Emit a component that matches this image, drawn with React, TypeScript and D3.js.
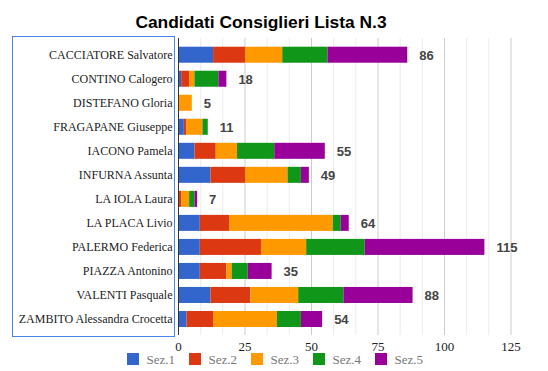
import React from "react";
import * as d3 from "d3";

const title = "Candidati Consiglieri Lista N.3";
const candidates = [
  "CACCIATORE Salvatore",
  "CONTINO Calogero",
  "DISTEFANO Gloria",
  "FRAGAPANE Giuseppe",
  "IACONO Pamela",
  "INFURNA Assunta",
  "LA IOLA Laura",
  "LA PLACA Livio",
  "PALERMO Federica",
  "PIAZZA Antonino",
  "VALENTI Pasquale",
  "ZAMBITO Alessandra Crocetta",
];
const seriesNames = ["Sez.1", "Sez.2", "Sez.3", "Sez.4", "Sez.5"];
const sez1 = [13, 1, 0, 2, 6, 12, 0, 8, 8, 8, 12, 3];
const sez2 = [12, 3, 0, 1, 8, 13, 1, 11, 23, 10, 15, 10];
const sez3 = [14, 2, 5, 6, 8, 16, 3, 39, 17, 2, 18, 24];
const sez4 = [17, 9, 0, 2, 14, 5, 2, 3, 22, 6, 17, 9];
const sez5 = [30, 3, 0, 0, 19, 3, 1, 3, 45, 9, 26, 8];
const colors = ["#3366cc", "#dc3912", "#ff9900", "#109618", "#990099"];
const xTicks = [0, 25, 50, 75, 100, 125];

export default function App() {
  const W = 548, H = 371;
  const x0 = 178.5, x1 = 511;
  const gTop = 38, gBottom = 335;
  const x = d3.scaleLinear().domain([0, 125]).range([x0, x1]);
  const y = d3.scaleBand<string>().domain(candidates).range([42.7, 331]).paddingInner(8 / 24).paddingOuter(4 / 24);

  const table = candidates.map((c, i) => ({
    name: c,
    "Sez.1": sez1[i], "Sez.2": sez2[i], "Sez.3": sez3[i], "Sez.4": sez4[i], "Sez.5": sez5[i],
  }));
  const stacked = d3.stack<any>().keys(seriesNames)(table);
  const totals = candidates.map((_, i) => sez1[i] + sez2[i] + sez3[i] + sez4[i] + sez5[i]);

  const minor = d3.range(0, 125.01, 25 / 3);
  const serif = "'Liberation Serif', 'Times New Roman', serif";
  const sans = "'Liberation Sans', Arial, sans-serif";

  return (
    <svg width={W} height={H} style={{ position: "absolute", left: 0, top: 0 }}>
      <rect width={W} height={H} fill="#fff" />
      <text x={261} y={28} textAnchor="middle" fontFamily={sans} fontWeight="bold" fontSize={17.4} fill="#000">{title}</text>
      {minor.map((v, i) => (
        <line key={"g" + i} x1={x(v)} x2={x(v)} y1={gTop} y2={gBottom}
          stroke={Math.abs(v % 25) < 0.01 || Math.abs((v % 25) - 25) < 0.01 ? "#cccccc" : "#ebebeb"} strokeWidth={1} />
      ))}
      {stacked.map((s, si) => (
        <g key={s.key} fill={colors[si]}>
          {s.map((d, i) => d[1] - d[0] > 0 ? (
            <rect key={i} x={x(d[0])} y={y(candidates[i])} width={x(d[1]) - x(d[0])} height={y.bandwidth()} />
          ) : null)}
        </g>
      ))}
      <line x1={x0} x2={x0} y1={gTop} y2={gBottom} stroke="#333" strokeWidth={1} />
      {candidates.map((c, i) => (
        <text key={"t" + i} x={x(totals[i]) + 12} y={(y(c) as number) + y.bandwidth() / 2 + 5}
          fontFamily={sans} fontWeight="bold" fontSize={13} fill="#444">{totals[i]}</text>
      ))}
      <rect x={12.5} y={36.5} width={162} height={300} fill="none" stroke="#4a86e8" strokeWidth={1} />
      {candidates.map((c, i) => (
        <text key={"l" + i} x={172.5} y={(y(c) as number) + y.bandwidth() / 2 + 4.5} textAnchor="end"
          fontFamily={serif} fontSize={12} fill="#222">{c}</text>
      ))}
      {xTicks.map((t) => (
        <text key={"x" + t} x={x(t)} y={351} textAnchor="middle" fontFamily={serif} fontSize={13} fill="#222">{t}</text>
      ))}
      {seriesNames.map((s, i) => (
        <g key={"lg" + i} transform={`translate(${127 + i * 62},353)`}>
          <rect width={12} height={12} fill={colors[i]} />
          <text x={19.5} y={10.5} fontFamily={serif} fontSize={13} fill="#777">{s}</text>
        </g>
      ))}
    </svg>
  );
}
